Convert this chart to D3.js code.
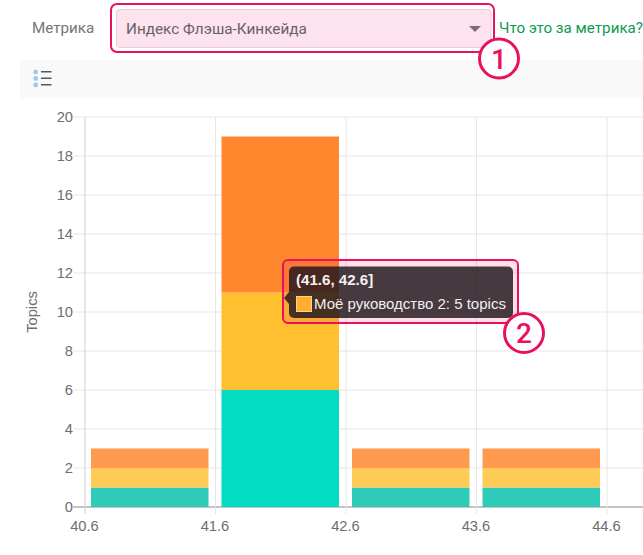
<!DOCTYPE html>
<html>
<head>
<meta charset="utf-8">
<title>Topics histogram</title>
<script src="https://d3js.org/d3.v7.min.js"></script>
<style>
html, body { margin: 0; padding: 0; background: #fff; overflow: hidden; }
svg { display: block; }
text { font-family: "Liberation Sans", Arial, sans-serif; }
.ui { font-family: Roboto, "Noto Sans", sans-serif; }
</style>
</head>
<body>
<script>
var binStarts = [40.6, 41.6, 42.6, 43.6]
var seriesNames = ['Моё руководство 1', 'Моё руководство 2', 'Моё руководство 3']
var series1 = [1, 6, 1, 1]
var series2 = [1, 5, 1, 1]
var series3 = [1, 8, 1, 1]
var xTicks = ['40.6', '41.6', '42.6', '43.6', '44.6']
var yTicks = [0, 2, 4, 6, 8, 10, 12, 14, 16, 18, 20]
var colors = ['#03dcc2', '#ffbf2f', '#ff882e']
var dimColors = ['#2ecbb8', '#ffcb57', '#ff9a4f']
var hoveredBin = 1
var binWidth = 1

var w = 643, h = 555
var pink = '#e8105f'

var svg = d3.select('body').append('svg').attr('width', w).attr('height', h)

var xScale = d3.scaleLinear().domain([40.6, 44.6]).range([85, 607])
var yScale = d3.scaleLinear().domain([0, 20]).range([507, 117])

// header
svg.append('text').attr('class', 'ui').attr('x', 32).attr('y', 33)
    .attr('font-size', 15.2).attr('fill', '#757575').text('Метрика')
svg.append('rect').attr('x', 116.5).attr('y', 9.5).attr('width', 374.5).attr('height', 38)
    .attr('rx', 3).attr('fill', '#fce3ee').attr('stroke', '#eccbd9')
svg.append('text').attr('class', 'ui').attr('x', 126).attr('y', 34)
    .attr('font-size', 15.3).attr('fill', '#6a6069').text('Индекс Флэша-Кинкейда')
svg.append('path').attr('d', d3.line()([[469, 26], [481, 26], [475, 32]]))
    .attr('fill', '#7b6f76')
svg.append('rect').attr('x', 111).attr('y', 4).attr('width', 383).attr('height', 48)
    .attr('rx', 6).attr('fill', 'none').attr('stroke', pink).attr('stroke-width', 2)
svg.append('text').attr('class', 'ui').attr('x', 499).attr('y', 33)
    .attr('font-size', 15.2).attr('fill', '#0e9b4f').text('Что это за метрика?')

// toolbar
svg.append('rect').attr('x', 20).attr('y', 60).attr('width', 623).attr('height', 38).attr('fill', '#f9f9f9')
;[72, 78.5, 85].forEach(function (y) {
    svg.append('circle').attr('cx', 35.7).attr('cy', y).attr('r', 2.4).attr('fill', '#9fc9ee')
    svg.append('rect').attr('x', 41).attr('y', y - 1).attr('width', 10.5).attr('height', 1.5).attr('fill', '#4c5a68')
})

// grid
var grid = svg.append('g')
grid.selectAll('.hgrid').data(yTicks).enter().append('line')
    .attr('x1', 73).attr('x2', w)
    .attr('y1', function (d) { return yScale(d) }).attr('y2', function (d) { return yScale(d) })
    .attr('stroke', function (d) { return d === 0 ? '#c4c4c4' : '#e6e6e6' })
    .attr('stroke-width', function (d) { return d === 0 ? 2 : 1 })
grid.selectAll('.vgrid').data(xTicks).enter().append('line')
    .attr('x1', function (d) { return xScale(+d) }).attr('x2', function (d) { return xScale(+d) })
    .attr('y1', 117).attr('y2', 514)
    .attr('stroke', function (d, i) { return i === 0 ? '#cfcfcf' : '#e6e6e6' })

// stacked bars
var allSeries = [series1, series2, series3]
allSeries.forEach(function (values, s) {
    var bars = svg.append('g')
    bars.selectAll('rect').data(values).enter().append('rect')
        .attr('x', function (d, i) { return xScale(binStarts[i]) + 6 })
        .attr('width', function (d, i) { return xScale(binStarts[i] + binWidth) - xScale(binStarts[i]) - 13 })
        .attr('y', function (d, i) {
            var base = 0
            for (var k = 0; k <= s; k++) base += allSeries[k][i]
            return yScale(base)
        })
        .attr('height', function (d) { return yScale(0) - yScale(d) })
        .attr('fill', function (d, i) { return i === hoveredBin ? colors[s] : dimColors[s] })
})

// axes labels
svg.selectAll('.ylab').data(yTicks).enter().append('text')
    .attr('x', 73).attr('y', function (d) { return yScale(d) + 4.5 })
    .attr('text-anchor', 'end').attr('font-size', 14.7).attr('fill', '#6e6e6e')
    .text(function (d) { return d })
svg.selectAll('.xlab').data(xTicks).enter().append('text')
    .attr('x', function (d) { return xScale(+d) - 0.5 }).attr('y', 531)
    .attr('text-anchor', 'middle').attr('font-size', 14.7).attr('fill', '#6e6e6e')
    .text(function (d) { return d })
svg.append('text').attr('transform', 'translate(37,312) rotate(-90)')
    .attr('text-anchor', 'middle').attr('font-size', 14.7).attr('fill', '#6e6e6e').text('Topics')

// tooltip
svg.append('rect').attr('x', 283).attr('y', 260).attr('width', 235).attr('height', 63)
    .attr('rx', 5).attr('fill', '#f0105f').attr('fill-opacity', 0.13)
svg.append('path').attr('d', 'M289,292 L284,298 L289,304 Z').attr('fill', 'rgba(35,25,30,0.84)')
svg.append('rect').attr('x', 289).attr('y', 266.5).attr('width', 224).attr('height', 51.5)
    .attr('rx', 5).attr('fill', 'rgba(35,25,30,0.84)')
svg.append('text').attr('x', 296).attr('y', 285).attr('font-size', 15.1).attr('font-weight', 'bold')
    .attr('fill', '#f6f0f2').text('(41.6, 42.6]')
svg.append('rect').attr('x', 296.5).attr('y', 296.5).attr('width', 15).attr('height', 15)
    .attr('fill', '#ffae2f').attr('stroke', '#ffd08a')
svg.append('text').attr('x', 314).attr('y', 308.5).attr('font-size', 15)
    .attr('fill', '#f3eef0').text(seriesNames[1] + ': ' + series2[1] + ' topics')
svg.append('rect').attr('x', 283).attr('y', 260).attr('width', 235).attr('height', 63)
    .attr('rx', 5).attr('fill', 'none').attr('stroke', pink).attr('stroke-width', 2)

// callouts
function callout(cx, cy, label) {
    svg.append('circle').attr('cx', cx).attr('cy', cy).attr('r', 19.5)
        .attr('fill', '#fff').attr('stroke', pink).attr('stroke-width', 3)
    svg.append('text').attr('class', 'ui').attr('x', cx).attr('y', cy + 10)
        .attr('text-anchor', 'middle').attr('font-size', 28).attr('font-weight', 500)
        .attr('fill', pink).text(label)
}
callout(499, 58.5, '1')
callout(524, 333, '2')
</script>
</body>
</html>
